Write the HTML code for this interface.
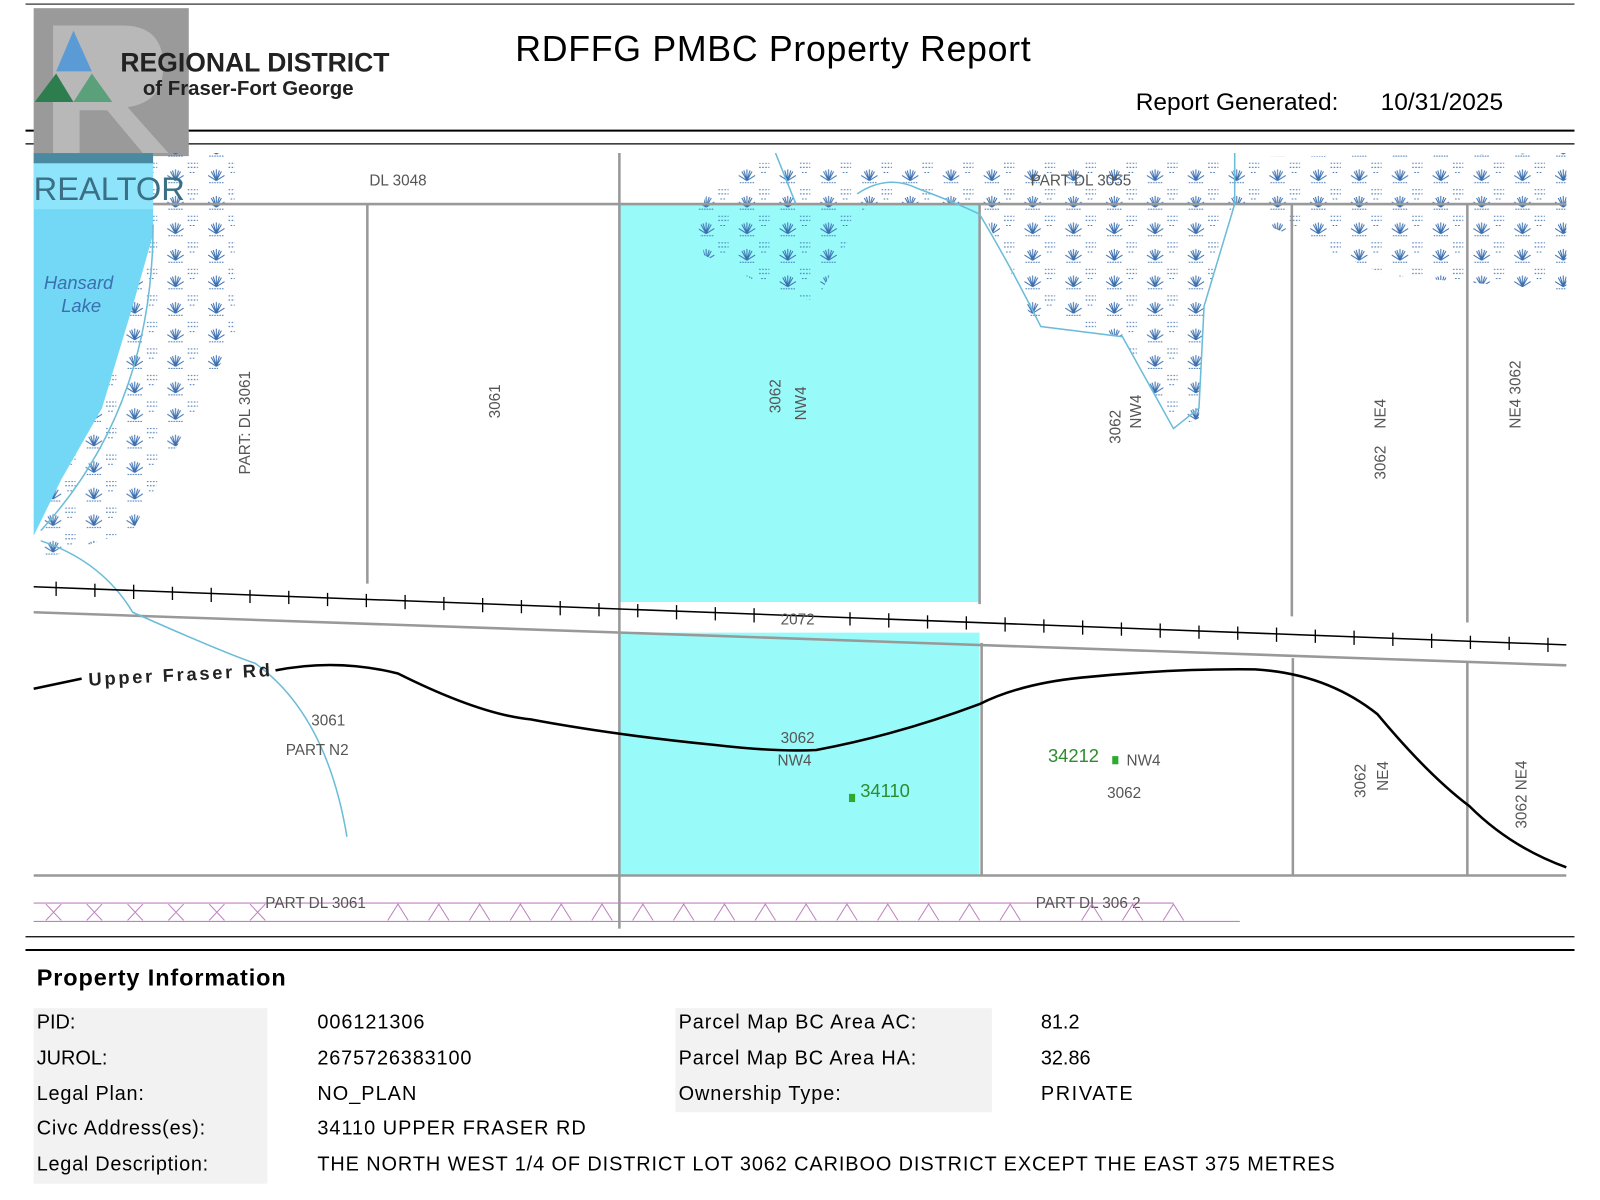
<!DOCTYPE html>
<html><head><meta charset="utf-8"><style>
html,body{margin:0;padding:0;background:#fff;width:1600px;height:1200px;overflow:hidden}
svg{display:block}
text{font-family:"Liberation Sans",Arial,sans-serif}
</style></head><body>
<svg width="1600" height="1200" viewBox="0 0 1568 1176" preserveAspectRatio="none" xmlns="http://www.w3.org/2000/svg">
<defs>
<pattern id="marsh" width="40" height="26" patternUnits="userSpaceOnUse">
<g stroke="#3a6fb0" stroke-width="1" fill="none">
<path d="M12 21 L12 10 M12 21 L7 12 M12 21 L17 12 M12 21 L4 16 M12 21 L20 16 M12 21 L9 11 M12 21 L15 11"/>
<line x1="5" y1="23" x2="19" y2="23" stroke-dasharray="1.5 1"/>
<path d="M24 4h10 M24 8h10 M26 13h6" stroke-dasharray="1.5 1.5"/>
</g>
</pattern>
</defs>
<rect width="1568" height="1176" fill="#fff"/>
<line x1="25" y1="4" x2="1543" y2="4" stroke="#555" stroke-width="1.5"/>
<line x1="25" y1="128" x2="1543" y2="128" stroke="#000" stroke-width="2"/>
<line x1="25" y1="141" x2="1543" y2="141" stroke="#000" stroke-width="1.2"/>
<!-- logo -->
<rect x="33" y="8" width="152" height="145" fill="#9a9a9a"/>
<path d="M52 25 H120 Q160 25 160 65 Q160 100 125 105 L165 150 H140 L105 108 H78 V150 H52Z" fill="#b8b8b8"/>
<polygon points="72,30 55,70 90,70" fill="#5b9bd5"/>
<polygon points="55,72 34,100 72,100" fill="#2e7d4f"/>
<polygon points="90,72 110,100 72,100" fill="#5aa07a"/>
<text x="118" y="70" font-size="26" font-weight="bold" fill="#222">REGIONAL DISTRICT</text>
<text x="140" y="93" font-size="20" font-weight="bold" fill="#222">of Fraser-Fort George</text>
<text x="505" y="60" font-size="35" fill="#000" textLength="505">RDFFG PMBC Property Report</text>
<text x="1113" y="108" font-size="24" fill="#000">Report Generated:</text>
<text x="1353" y="108" font-size="24" fill="#000">10/31/2025</text>
<!-- marsh -->
<path d="M690 195 L720 160 L1535 150 L1535 200 L690 200Z" fill="url(#marsh)"/>
<path d="M1240 200 H1535 V285 L1360 270 L1240 220Z" fill="url(#marsh)"/>
<path d="M960 200 H1210 L1180 300 L1175 410 L1150 420 L1100 330 L1010 310Z" fill="url(#marsh)"/>
<path d="M680 200 H850 L800 295 L770 290 L690 250Z" fill="url(#marsh)"/>
<path d="M150 150 H230 L230 330 L130 520 L35 550 L35 520Z" fill="url(#marsh)"/>
<rect x="607" y="200" width="353" height="390" fill="#99fafa"/>
<path d="M680 200 H850 L800 295 L770 290 L690 250Z" fill="url(#marsh)"/>
<rect x="607" y="620" width="353" height="238" fill="#99fafa"/>
<!-- lake -->
<path d="M33 150 H150 L150 230 L130 300 L100 400 L60 470 L33 525Z" fill="#73d8f6"/>
<rect x="33" y="150" width="117" height="55" fill="#8ee4fb"/>
<rect x="33" y="150" width="117" height="10" fill="#4a8aa0"/>
<text x="33" y="196" font-size="32" fill="#3a6f86">REALTOR</text>
<text x="43" y="283" font-size="18" font-style="italic" fill="#3a6fb0">Hansard</text>
<text x="60" y="306" font-size="18" font-style="italic" fill="#3a6fb0">Lake</text>
<g stroke="#999" stroke-width="2.5" fill="none">
<line x1="150" y1="200" x2="1535" y2="200"/>
<line x1="360" y1="200" x2="360" y2="572"/>
<line x1="607" y1="150" x2="607" y2="910"/>
<line x1="960" y1="200" x2="960" y2="592"/>
<line x1="1266" y1="200" x2="1266" y2="604"/>
<line x1="1438" y1="200" x2="1438" y2="610"/>
<line x1="962" y1="630" x2="962" y2="858"/>
<line x1="1267" y1="645" x2="1267" y2="858"/>
<line x1="1438" y1="648" x2="1438" y2="858"/>
<line x1="33" y1="858" x2="1535" y2="858"/>
<line x1="33" y1="600" x2="1535" y2="652"/>
</g>
<g stroke="#6bbcd8" stroke-width="1.5" fill="none">
<path d="M40 530 Q100 550 130 600 Q220 640 250 650 Q320 700 340 820"/>
<path d="M760 150 L780 200 M840 190 Q870 170 900 185 Q940 200 960 210 Q990 260 1020 320 L1100 330 L1150 420 L1175 400 L1180 300 L1210 200 L1210 150"/>
<path d="M150 220 Q150 400 40 520"/>
</g>
<line x1="33" y1="575" x2="1535" y2="632" stroke="#000" stroke-width="1.5"/>
<path d="M33 675 L80 665 M270 657 Q330 645 390 660 Q470 700 520 705 Q600 720 700 730 Q760 737 800 735 Q880 720 960 690 Q1000 670 1060 664 Q1150 655 1230 656 Q1300 660 1350 700 Q1400 760 1440 790 Q1480 830 1535 850" stroke="#000" stroke-width="2.5" fill="none"/>
<text x="87" y="672" font-size="18" font-weight="bold" fill="#222" transform="rotate(-3 87 672)" textLength="178">Upper Fraser Rd</text>
<g stroke="#c080c0" stroke-width="1" fill="none">
<line x1="33" y1="885" x2="1150" y2="885"/>
<line x1="33" y1="903" x2="1215" y2="903"/>
</g>
<g fill="#555" font-size="15">
<text x="362" y="182">DL 3048</text>
<text x="1010" y="182">PART DL 3055</text>
<text x="305" y="711">3061</text>
<text x="280" y="740">PART N2</text>
<text x="765" y="728">3062</text>
<text x="762" y="750">NW4</text>
<text x="1085" y="782">3062</text>
<text x="1104" y="750">NW4</text>
<text x="260" y="890">PART DL 3061</text>
<text x="1015" y="890">PART DL 306 2</text>
<text x="765" y="612">2072</text>
<text transform="translate(245 465) rotate(-90)">PART: DL 3061</text>
<text transform="translate(490 410) rotate(-90)">3061</text>
<text transform="translate(765 405) rotate(-90)">3062</text>
<text transform="translate(790 412) rotate(-90)">NW4</text>
<text transform="translate(1098 435) rotate(-90)">3062</text>
<text transform="translate(1118 420) rotate(-90)">NW4</text>
<text transform="translate(1358 470) rotate(-90)">3062</text>
<text transform="translate(1358 420) rotate(-90)">NE4</text>
<text transform="translate(1490 420) rotate(-90)">NE4 3062</text>
<text transform="translate(1338 782) rotate(-90)">3062</text>
<text transform="translate(1360 775) rotate(-90)">NE4</text>
<text transform="translate(1496 812) rotate(-90)">3062 NE4</text>
</g>
<text x="1027" y="747" font-size="18" fill="#2e8b2e">34212</text>
<rect x="1090" y="741" width="6" height="8" fill="#2eaa2e"/>
<text x="843" y="781" font-size="18" fill="#2e8b2e">34110</text>
<rect x="832" y="778" width="6" height="8" fill="#2eaa2e"/>
<line x1="25" y1="918" x2="1543" y2="918" stroke="#000" stroke-width="1.2"/>
<line x1="25" y1="931" x2="1543" y2="931" stroke="#000" stroke-width="2"/>
<text x="36" y="966" font-size="23" font-weight="bold" fill="#000" textLength="244">Property Information</text>
<rect x="33" y="988" width="229" height="172" fill="#f2f2f2"/>
<rect x="662" y="988" width="310" height="102" fill="#f2f2f2"/>
<g font-size="19.5" fill="#000">
<text x="36" y="1008">PID:</text><text x="311" y="1008" textLength="105">006121306</text>
<text x="665" y="1008" textLength="233">Parcel Map BC Area AC:</text><text x="1020" y="1008">81.2</text>
<text x="36" y="1043">JUROL:</text><text x="311" y="1043" textLength="151">2675726383100</text>
<text x="665" y="1043" textLength="233">Parcel Map BC Area HA:</text><text x="1020" y="1043">32.86</text>
<text x="36" y="1078" textLength="105">Legal Plan:</text><text x="311" y="1078" textLength="97">NO_PLAN</text>
<text x="665" y="1078" textLength="159">Ownership Type:</text><text x="1020" y="1078" textLength="90">PRIVATE</text>
<text x="36" y="1112" textLength="165">Civc Address(es):</text><text x="311" y="1112" textLength="263">34110 UPPER FRASER RD</text>
<text x="36" y="1147" textLength="168">Legal Description:</text><text x="311" y="1147" textLength="997">THE NORTH WEST 1/4 OF DISTRICT LOT 3062 CARIBOO DISTRICT EXCEPT THE EAST 375 METRES</text>
</g>
<g stroke="#000" stroke-width="1.3">
<line x1="55" y1="570" x2="55" y2="584"/><line x1="93" y1="572" x2="93" y2="585"/><line x1="131" y1="573" x2="131" y2="587"/><line x1="169" y1="575" x2="169" y2="588"/><line x1="207" y1="576" x2="207" y2="590"/><line x1="245" y1="578" x2="245" y2="591"/><line x1="283" y1="579" x2="283" y2="592"/><line x1="321" y1="581" x2="321" y2="594"/><line x1="359" y1="582" x2="359" y2="595"/><line x1="397" y1="583" x2="397" y2="597"/><line x1="435" y1="585" x2="435" y2="598"/><line x1="473" y1="586" x2="473" y2="600"/><line x1="511" y1="588" x2="511" y2="601"/><line x1="549" y1="589" x2="549" y2="603"/><line x1="587" y1="591" x2="587" y2="604"/><line x1="625" y1="592" x2="625" y2="605"/><line x1="663" y1="593" x2="663" y2="607"/><line x1="701" y1="595" x2="701" y2="608"/><line x1="739" y1="596" x2="739" y2="610"/><line x1="833" y1="600" x2="833" y2="613"/><line x1="871" y1="601" x2="871" y2="615"/><line x1="909" y1="603" x2="909" y2="616"/><line x1="947" y1="604" x2="947" y2="617"/><line x1="985" y1="605" x2="985" y2="619"/><line x1="1023" y1="607" x2="1023" y2="620"/><line x1="1061" y1="608" x2="1061" y2="622"/><line x1="1099" y1="610" x2="1099" y2="623"/><line x1="1137" y1="611" x2="1137" y2="625"/><line x1="1175" y1="613" x2="1175" y2="626"/><line x1="1213" y1="614" x2="1213" y2="627"/><line x1="1251" y1="615" x2="1251" y2="629"/><line x1="1289" y1="617" x2="1289" y2="630"/><line x1="1327" y1="618" x2="1327" y2="632"/><line x1="1365" y1="620" x2="1365" y2="633"/><line x1="1403" y1="621" x2="1403" y2="635"/><line x1="1441" y1="623" x2="1441" y2="636"/><line x1="1479" y1="624" x2="1479" y2="637"/><line x1="1517" y1="625" x2="1517" y2="639"/>
</g>
<g stroke="#c080c0" stroke-width="1" fill="none">
<path d="M45 886 L60 902 M60 886 L45 902 M85 886 L100 902 M100 886 L85 902 M125 886 L140 902 M140 886 L125 902 M165 886 L180 902 M180 886 L165 902 M205 886 L220 902 M220 886 L205 902 M245 886 L260 902 M260 886 L245 902 M380 902 L390 886 L400 902 M420 902 L430 886 L440 902 M460 902 L470 886 L480 902 M500 902 L510 886 L520 902 M540 902 L550 886 L560 902 M580 902 L590 886 L600 902 M620 902 L630 886 L640 902 M660 902 L670 886 L680 902 M700 902 L710 886 L720 902 M740 902 L750 886 L760 902 M780 902 L790 886 L800 902 M820 902 L830 886 L840 902 M860 902 L870 886 L880 902 M900 902 L910 886 L920 902 M940 902 L950 886 L960 902 M980 902 L990 886 L1000 902 M1060 902 L1070 886 L1080 902 M1100 902 L1110 886 L1120 902 M1140 902 L1150 886 L1160 902"/>
</g>
</svg>
</body></html>
